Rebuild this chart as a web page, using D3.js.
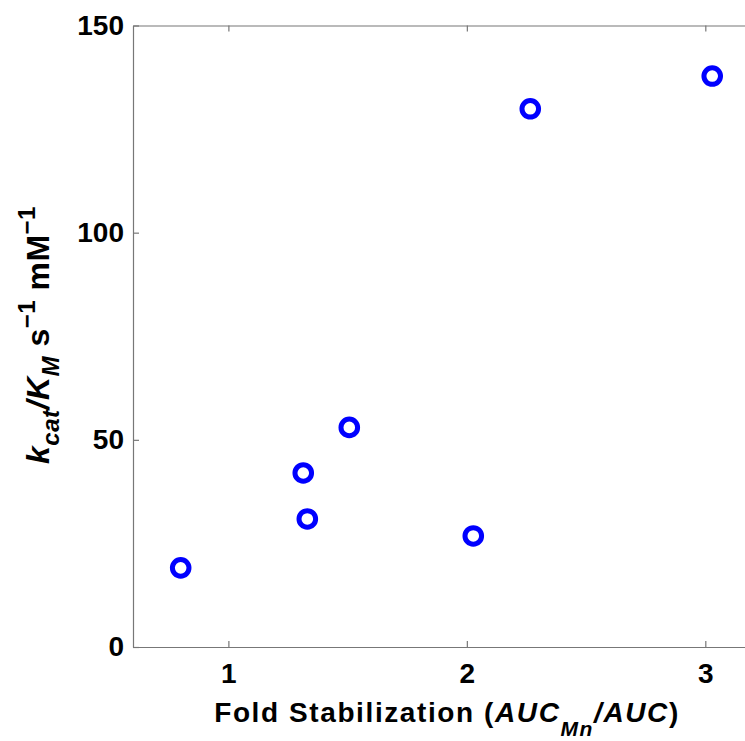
<!DOCTYPE html>
<html>
<head>
<meta charset="utf-8">
<script src="https://d3js.org/d3.v7.min.js"></script>
<style>
  body { margin: 0; background: #fff; }
  text { font-family: "Liberation Sans", Arial, sans-serif; font-weight: bold; }
</style>
</head>
<body>
<svg></svg>
<script>
const width = 745;
const height = 741;

// données
const foldStab = [0.80, 1.314, 1.331, 1.507, 2.027, 2.266, 3.029];
const kcatKm = [19.1, 42.0, 30.9, 53.0, 26.8, 129.9, 137.8];
const xTicks = [1, 2, 3];
const yTicks = [0, 50, 100, 150];

const margin = { left: 133, top: 25.5, right: 753, bottom: 647 };

const svg = d3.select("svg")
  .attr("width", width)
  .attr("height", height);

const x = d3.scaleLinear().domain([0.6, 3.2]).range([margin.left, margin.right]);
const y = d3.scaleLinear().domain([0, 150]).range([margin.bottom, margin.top]);

const axisColor = "#777";

function styleAxis(g) {
  g.select(".domain").attr("stroke", axisColor).attr("stroke-width", 1.2);
  g.selectAll(".tick line").attr("stroke", axisColor).attr("stroke-width", 1.2);
  g.selectAll(".tick text")
    .attr("fill", "#000")
    .style("font-size", "28px");
}

// axe du bas
svg.append("g")
  .attr("transform", `translate(0,${margin.bottom})`)
  .call(d3.axisBottom(x).tickValues(xTicks).tickFormat(d3.format("d"))
    .tickSizeInner(-6).tickSizeOuter(0).tickPadding(16))
  .call(styleAxis);

// axe du haut (cadre)
svg.append("g")
  .attr("transform", `translate(0,${margin.top})`)
  .call(d3.axisTop(x).tickValues(xTicks).tickFormat("")
    .tickSizeInner(-6).tickSizeOuter(0))
  .call(styleAxis);

// axe gauche
svg.append("g")
  .attr("transform", `translate(${margin.left},0)`)
  .call(d3.axisLeft(y).tickValues(yTicks).tickFormat(d3.format("d"))
    .tickSizeInner(-6).tickSizeOuter(0).tickPadding(9))
  .call(styleAxis);

// axe droit (cadre)
svg.append("g")
  .attr("transform", `translate(${margin.right},0)`)
  .call(d3.axisRight(y).tickValues(yTicks).tickFormat("")
    .tickSizeInner(-6).tickSizeOuter(0))
  .call(styleAxis);

// points
svg.append("g")
  .selectAll("circle")
  .data(foldStab.map((d, i) => [d, kcatKm[i]]))
  .join("circle")
  .attr("cx", d => x(d[0]))
  .attr("cy", d => y(d[1]))
  .attr("r", 8.3)
  .attr("fill", "none")
  .attr("stroke", "#0000ff")
  .attr("stroke-width", 5);

// titre axe x
const xl = svg.append("text")
  .attr("x", 447)
  .attr("y", 722)
  .attr("text-anchor", "middle")
  .style("font-size", "28px")
  .style("letter-spacing", "1.6px")
  .attr("fill", "#000");
xl.append("tspan").text("Fold Stabilization (");
xl.append("tspan").style("font-style", "italic").text("AUC");
xl.append("tspan").style("font-style", "italic").style("font-size", "21px").attr("dy", 14).text("Mn");
xl.append("tspan").style("font-style", "italic").attr("dy", -14).text("/AUC");
xl.append("tspan").text(")");

// titre axe y
const yl = svg.append("text")
  .attr("transform", "translate(49,335) rotate(-90)")
  .attr("text-anchor", "middle")
  .style("font-size", "32px")
  .style("letter-spacing", "0.5px")
  .attr("fill", "#000");
yl.append("tspan").style("font-style", "italic").text("k");
yl.append("tspan").style("font-style", "italic").style("font-size", "24px").attr("dy", 10).text("cat");
yl.append("tspan").style("font-style", "italic").attr("dy", -10).text("/K");
yl.append("tspan").style("font-style", "italic").style("font-size", "24px").attr("dy", 10).text("M");
yl.append("tspan").attr("dy", -10).text(" s");
yl.append("tspan").style("font-size", "24px").attr("dy", -14).text("\u2212" + "1");
yl.append("tspan").attr("dy", 14).text(" mM");
yl.append("tspan").style("font-size", "24px").attr("dy", -14).text("\u2212" + "1");
</script>
</body>
</html>
